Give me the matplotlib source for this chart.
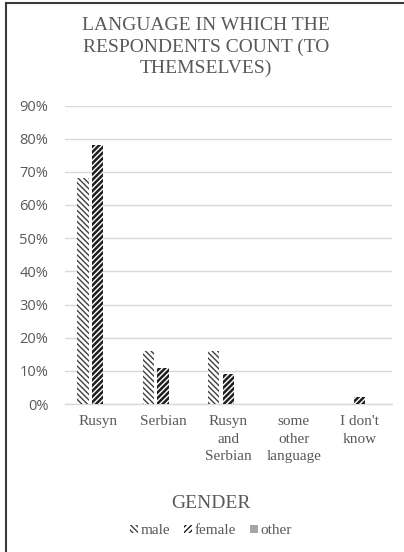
import matplotlib
matplotlib.use("Agg")
import matplotlib.pyplot as plt
from matplotlib.lines import Line2D
import numpy as np

# Survey data: share of respondents by counting language and gender
categories = ["Rusyn", "Serbian", "Rusyn\nand\nSerbian", "some\nother\nlanguage", "I don't\nknow"]
male = [0.68, 0.16, 0.16, 0.0, 0.0]
female = [0.78, 0.11, 0.09, 0.0, 0.02]
other = [0.0, 0.0, 0.0, 0.0, 0.0]
series_names = ["male", "female", "other"]
y_ticks = [0.0, 0.1, 0.2, 0.3, 0.4, 0.5, 0.6, 0.7, 0.8, 0.9]
y_tick_labels = ["0%", "10%", "20%", "30%", "40%", "50%", "60%", "70%", "80%", "90%"]

TEXT_GRAY = "#595959"
GRID_GRAY = "#d9d9d9"
SERIF = "Liberation Serif"

W, H = 404, 552
fig = plt.figure(figsize=(W / 100, H / 100), dpi=100)
fig.patch.set_facecolor("white")

ax = fig.add_axes([65 / W, 1 - 404 / H, (392 - 65) / W, (404 - 105.5) / H])

x = np.arange(len(categories))
bw = 0.176
step = 0.226

styles = [
    dict(hatch="\\" * 6, edgecolor="#404040", hlw=1.0),
    dict(hatch="/" * 6, edgecolor="#1e1e1e", hlw=1.8),
    dict(hatch=None, edgecolor="#a6a6a6", hlw=1.0),
]
facecolors = ["white", "white", "#a6a6a6"]

containers = []
for i, (vals, st) in enumerate(zip([male, female, other], styles)):
    plt.rcParams["hatch.linewidth"] = st["hlw"]
    bars = ax.bar(x + (i - 1) * step, vals, width=bw, color=facecolors[i],
                  edgecolor=st["edgecolor"], linewidth=0, hatch=st["hatch"],
                  label=series_names[i], zorder=3)
    for b in bars:
        try:
            b.set_hatch_linewidth(st["hlw"])
        except AttributeError:
            pass
    containers.append(bars)

ax.set_xlim(-0.5, len(categories) - 0.5)
ax.set_ylim(0, 0.9)
ax.set_yticks(y_ticks)
ax.set_yticklabels(y_tick_labels, fontfamily="Open Sans", fontsize=10.5, color=TEXT_GRAY)
ax.set_xticks(x)
ax.set_xticklabels(categories, fontfamily=SERIF, fontsize=11, color=TEXT_GRAY,
                   linespacing=1.45)
ax.tick_params(axis="y", length=0, pad=12)
ax.tick_params(axis="x", length=0, pad=8)

ax.grid(axis="y", color=GRID_GRAY, linewidth=1.0, zorder=0)
for s in ["top", "right", "left"]:
    ax.spines[s].set_visible(False)
ax.spines["bottom"].set_color(GRID_GRAY)
ax.spines["bottom"].set_linewidth(1.0)
ax.set_facecolor("white")

# Title
fig.text(206 / W, 1 - 47 / H,
         "LANGUAGE IN WHICH THE\nRESPONDENTS COUNT (TO\nTHEMSELVES)",
         ha="center", va="center", fontfamily=SERIF, fontsize=14,
         color=TEXT_GRAY, linespacing=1.3)

# Legend title and legend
fig.text(211 / W, 1 - 503 / H, "GENDER", ha="center", va="center",
         fontfamily=SERIF, fontsize=14, color=TEXT_GRAY)
leg = fig.legend(handles=containers, labels=series_names, loc="center",
                 bbox_to_anchor=(211 / W, 1 - 531 / H), ncol=3, frameon=False,
                 prop={"family": SERIF, "size": 11}, handlelength=0.5,
                 handleheight=0.5, handletextpad=0.2, columnspacing=0.9,
                 borderaxespad=0, borderpad=0)
for t in leg.get_texts():
    t.set_color(TEXT_GRAY)

# Frame lines along the top and left edges
fig.add_artist(Line2D([5.5 / W, 5.5 / W], [0, 1 - 2.5 / H], transform=fig.transFigure,
                      color="#3a3a3a", linewidth=1.5))
fig.add_artist(Line2D([5.5 / W, 1], [1 - 2.5 / H, 1 - 2.5 / H], transform=fig.transFigure,
                      color="#3a3a3a", linewidth=1.5))

fig.savefig("out.png", dpi=100)
